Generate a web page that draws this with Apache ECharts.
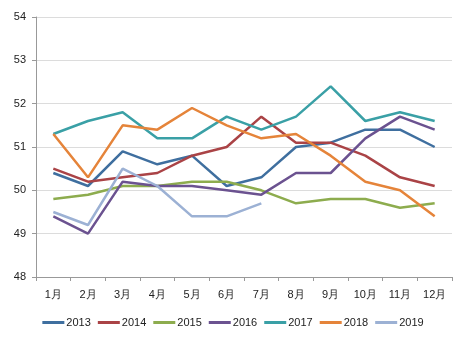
<!DOCTYPE html>
<html><head><meta charset="utf-8">
<script src="https://cdn.jsdelivr.net/npm/echarts@6/dist/echarts.min.js"></script>
<style>html,body{margin:0;padding:0;background:#fff}#c{width:466px;height:337px}</style>
</head><body><div id="c"></div>
<script>
const months = ['1月','2月','3月','4月','5月','6月','7月','8月','9月','10月','11月','12月'];
const years = ['2013','2014','2015','2016','2017','2018','2019'];
const s2013 = [50.4, 50.1, 50.9, 50.6, 50.8, 50.1, 50.3, 51.0, 51.1, 51.4, 51.4, 51.0];
const s2014 = [50.5, 50.2, 50.3, 50.4, 50.8, 51.0, 51.7, 51.1, 51.1, 50.8, 50.3, 50.1];
const s2015 = [49.8, 49.9, 50.1, 50.1, 50.2, 50.2, 50.0, 49.7, 49.8, 49.8, 49.6, 49.7];
const s2016 = [49.4, 49.0, 50.2, 50.1, 50.1, 50.0, 49.9, 50.4, 50.4, 51.2, 51.7, 51.4];
const s2017 = [51.3, 51.6, 51.8, 51.2, 51.2, 51.7, 51.4, 51.7, 52.4, 51.6, 51.8, 51.6];
const s2018 = [51.3, 50.3, 51.5, 51.4, 51.9, 51.5, 51.2, 51.3, 50.8, 50.2, 50.0, 49.4];
const s2019 = [49.5, 49.2, 50.5, 50.1, 49.4, 49.4, 49.7];
const seriesData = [s2013, s2014, s2015, s2016, s2017, s2018, s2019];
const colors = ['#3f6f9f', '#aa4346', '#8dac4e', '#6b5290', '#3aa0a6', '#e5843a', '#9cb1d4'];

const chart = echarts.init(document.getElementById('c'));
chart.setOption({
  animation: false,
  textStyle: {fontFamily: 'Liberation Sans, DejaVu Sans, sans-serif'},
  grid: {left: 36, right: 14, top: 17, bottom: 60},
  legend: {
    bottom: 4, left: 'center', itemWidth: 22, itemHeight: 3, itemGap: 7,
    icon: 'rect',
    textStyle: {fontSize: 11, color: '#222', padding: [0,0,0,-3]},
    data: years
  },
  xAxis: {
    type: 'category', data: months, boundaryGap: true,
    axisLine: {lineStyle: {color: '#999'}},
    axisTick: {show: true, length: 4, lineStyle: {color: '#999'}},
    axisLabel: {fontSize: 11, color: '#222', margin: 12},
    splitLine: {show: false}
  },
  yAxis: {
    type: 'value', min: 48, max: 54, interval: 1,
    axisLine: {show: true, lineStyle: {color: '#999'}},
    axisTick: {show: true, length: 4, lineStyle: {color: '#999'}},
    axisLabel: {fontSize: 11, color: '#222', margin: 10},
    splitLine: {lineStyle: {color: '#dcdcdc'}}
  },
  series: years.map((y, i) => ({
    name: y, type: 'line', data: seriesData[i], showSymbol: false, symbol: 'none',
    lineStyle: {width: 2.5, color: colors[i]}, itemStyle: {color: colors[i]}
  }))
});
</script></body></html>
